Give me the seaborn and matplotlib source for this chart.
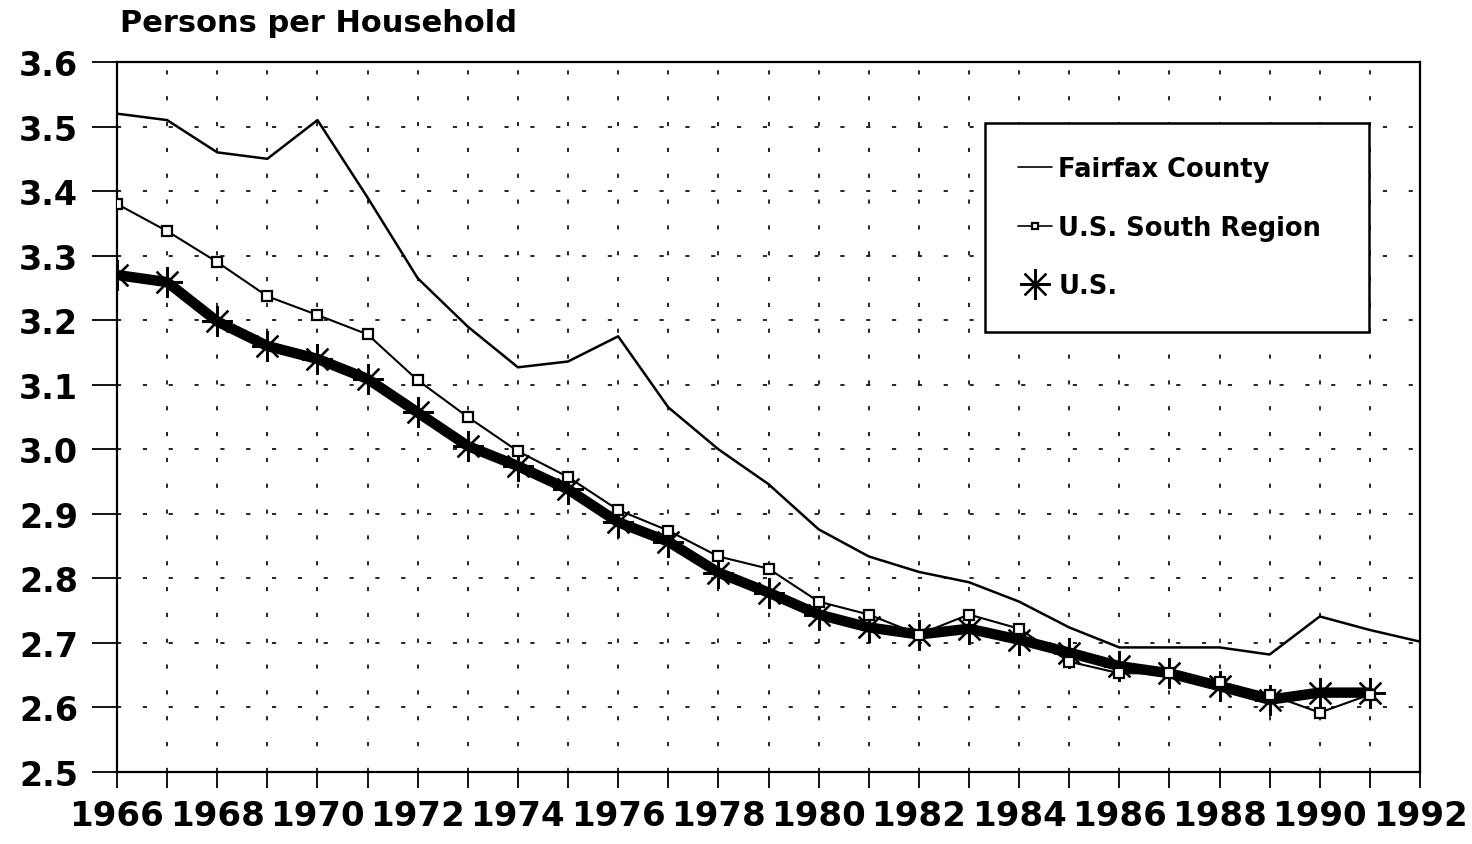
import numpy as np
import pandas as pd
import matplotlib
matplotlib.use("Agg")
import matplotlib.pyplot as plt
import seaborn as sns

# ---- data ----
years_fairfax = list(range(1966, 1993))
fairfax = [3.52, 3.51, 3.46, 3.45, 3.51, 3.39, 3.265, 3.19, 3.127, 3.136, 3.175,
           3.065, 3.00, 2.946, 2.876, 2.834, 2.81, 2.794, 2.764, 2.724, 2.693,
           2.693, 2.693, 2.682, 2.741, 2.72, 2.702]
years_other = list(range(1966, 1992))
south = [3.38, 3.338, 3.29, 3.237, 3.208, 3.178, 3.107, 3.05, 2.997, 2.957, 2.906,
         2.874, 2.834, 2.815, 2.764, 2.744, 2.713, 2.744, 2.722, 2.671, 2.653,
         2.653, 2.64, 2.62, 2.592, 2.62]
us = [3.27, 3.259, 3.198, 3.16, 3.14, 3.109, 3.057, 3.005, 2.974, 2.938, 2.887,
      2.857, 2.809, 2.778, 2.744, 2.724, 2.713, 2.722, 2.705, 2.685, 2.664,
      2.653, 2.633, 2.612, 2.623, 2.623]
series_names = ["Fairfax County", "U.S. South Region", "U.S."]
y_ticks = [2.5, 2.6, 2.7, 2.8, 2.9, 3.0, 3.1, 3.2, 3.3, 3.4, 3.5, 3.6]
title = "Persons per Household"

df_f = pd.DataFrame({"year": years_fairfax, "value": fairfax})
df_s = pd.DataFrame({"year": years_other, "value": south})
df_u = pd.DataFrame({"year": years_other, "value": us})

sns.set_style("ticks")
plt.rcParams["font.family"] = ["DejaVu Sans"]
plt.rcParams["font.weight"] = "bold"
plt.rcParams["text.color"] = "black"
plt.rcParams["axes.labelcolor"] = "black"
plt.rcParams["xtick.color"] = "black"
plt.rcParams["ytick.color"] = "black"

fig = plt.figure(figsize=(14.72, 8.45), dpi=100)
ax = fig.add_axes([117 / 1472, 72 / 845, (1420 - 117) / 1472, (773 - 63) / 845])

sns.lineplot(data=df_u, x="year", y="value", ax=ax, color="black", linewidth=7.5,
             marker=(8, 2, 0), markersize=22, markeredgewidth=1.6,
             markeredgecolor="black", label=series_names[2], zorder=3)
sns.lineplot(data=df_f, x="year", y="value", ax=ax, color="black", linewidth=1.8,
             label=series_names[0], zorder=4)
sns.lineplot(data=df_s, x="year", y="value", ax=ax, color="black", linewidth=1.5,
             marker="s", markersize=6.5, markerfacecolor="white",
             markeredgecolor="black", markeredgewidth=1.6,
             label=series_names[1], zorder=5)

ax.set_xlim(1966, 1992)
ax.set_ylim(2.5, 3.6)
ax.set_xlabel("")
ax.set_ylabel("")

years_all = list(range(1966, 1993))
ax.set_xticks(years_all)
ax.set_xticklabels([str(y) if (y - 1966) % 2 == 0 else "" for y in years_all],
                   fontsize=24.5, fontweight="bold", color="black")
ax.set_yticks(y_ticks)
ax.set_yticklabels([f"{v:.1f}" for v in y_ticks], fontsize=24, fontweight="bold",
                   color="black")
ax.tick_params(axis="x", direction="out", length=11.5, width=1.3, pad=8,
               colors="black", labelcolor="black")
ax.tick_params(axis="y", direction="out", length=18, width=1.3, pad=10,
               colors="black", labelcolor="black")

ax.grid(True, which="major", color="black", linewidth=1.2,
        linestyle=(0, (2.5, 13)))
for s in ax.spines.values():
    s.set_visible(True)
    s.set_color("black")
    s.set_linewidth(1.6)

# legend
handles, labels = ax.get_legend_handles_labels()
order = [labels.index(n) for n in series_names]
leg = ax.legend([handles[i] for i in order], [labels[i] for i in order],
                loc="upper left",
                bbox_to_anchor=(985 / 1472, 1 - 124 / 845 - 0.01,
                                (1369 - 985) / 1472, 0.01),
                bbox_transform=fig.transFigure, mode="expand",
                prop={"size": 18.5, "weight": "bold"},
                frameon=True, fancybox=False, shadow=False, framealpha=1,
                edgecolor="black", borderpad=1.3, labelspacing=1.25,
                handlelength=1.3, handletextpad=0.25, borderaxespad=0)
leg.get_frame().set_linewidth(1.8)
for t in leg.get_texts():
    t.set_color("black")
hl = leg.legend_handles
hl[2].set_linestyle("none")
hl[0].set_linewidth(1.2)
hl[1].set_linewidth(1.2)
hl[1].set_markersize(5)

fig.text(120 / 1472, 1 - 9 / 845, title, fontsize=22, fontweight="bold",
         ha="left", va="top", color="black")

fig.savefig("out.png", dpi=100)
